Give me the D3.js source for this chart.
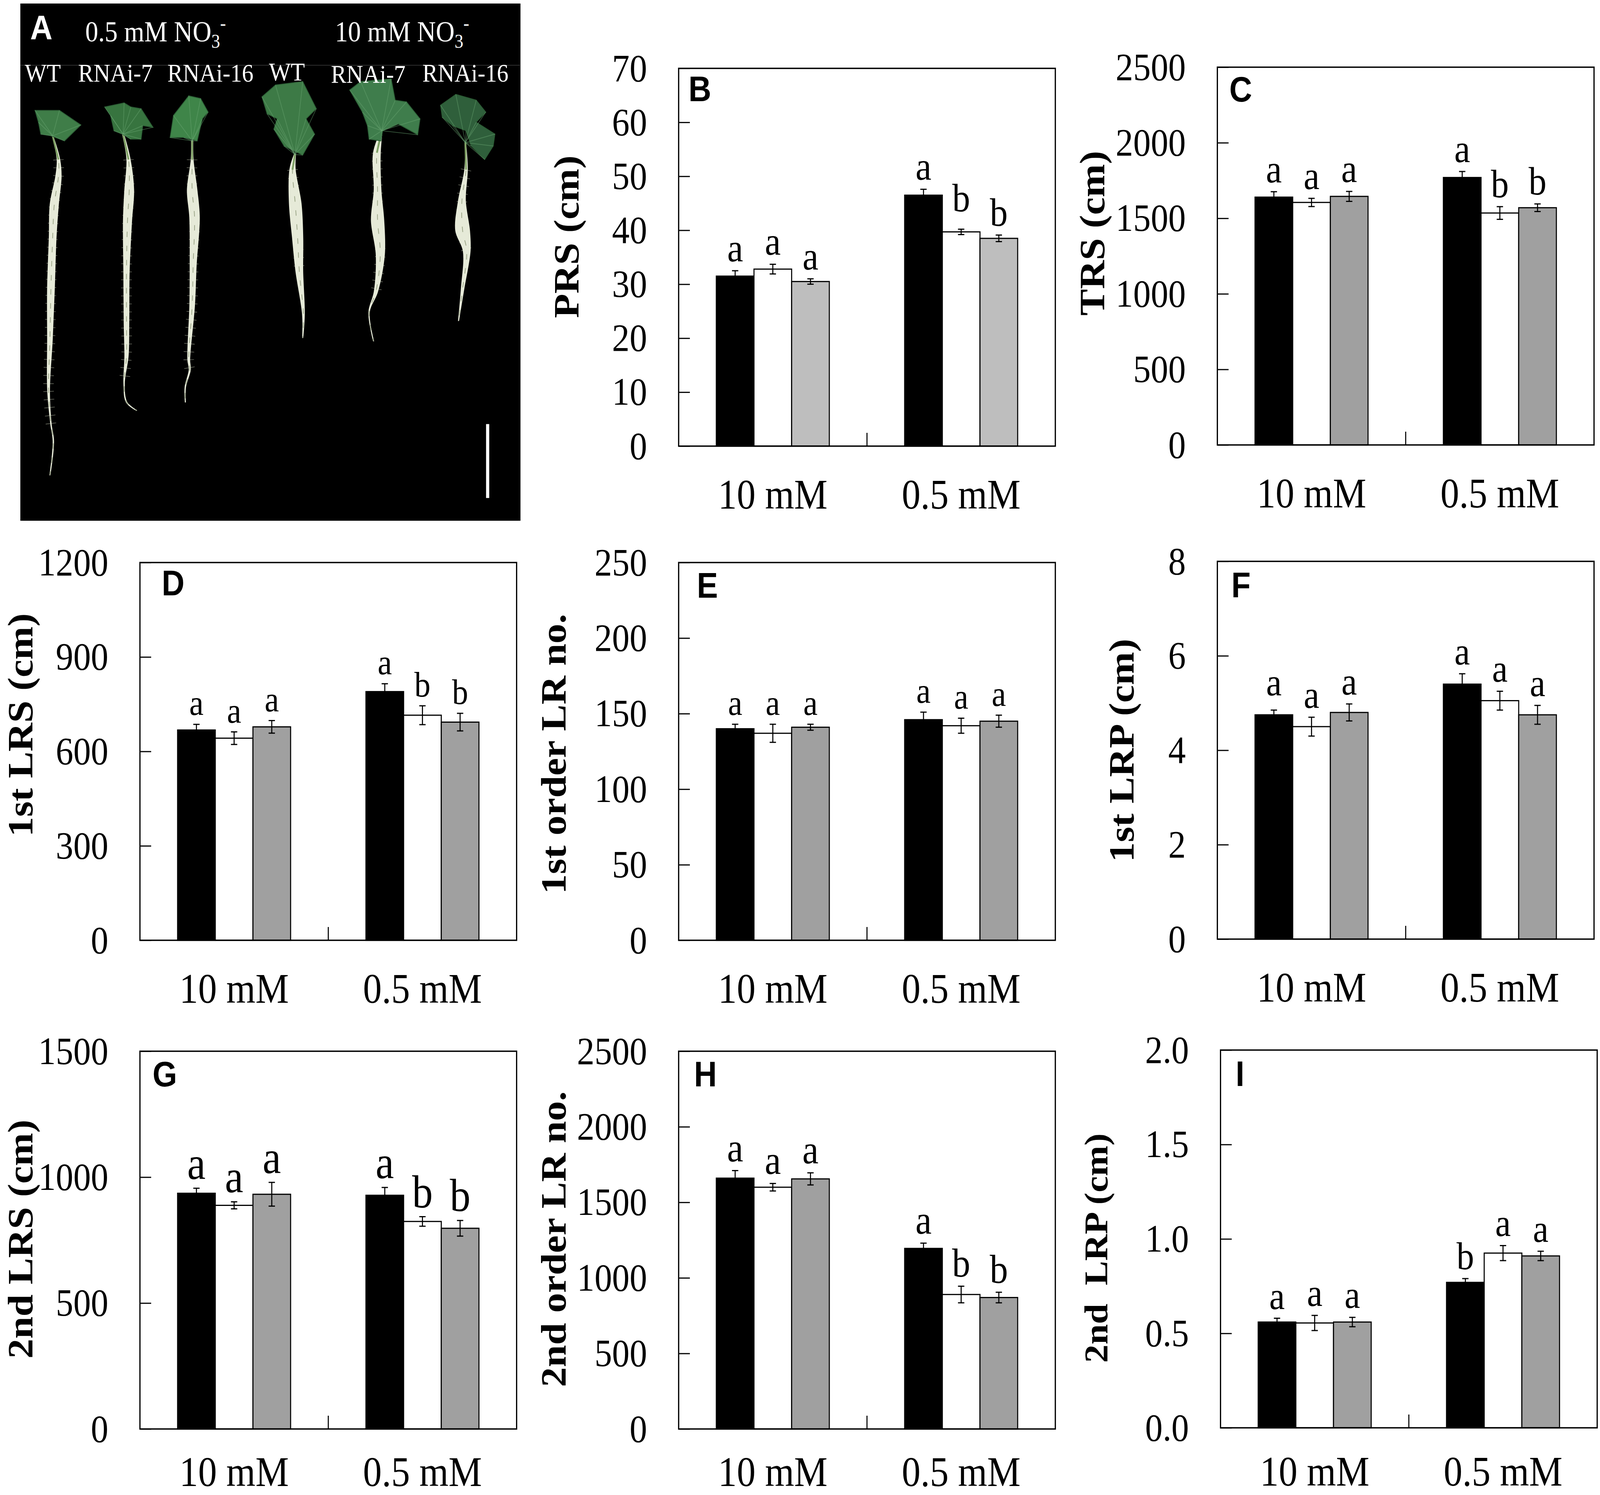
<!DOCTYPE html>
<html>
<head>
<meta charset="utf-8">
<script src="https://cdn.jsdelivr.net/npm/d3@7"></script>
<style>
html, body { margin: 0; padding: 0; background: #fff; overflow: hidden; }
</style>
</head>
<body>
<div id="chart"></div>
<script>
var conditions = ['10 mM', '0.5 mM'];
var genotypes = ['WT', 'RNAi-7', 'RNAi-16'];

// each list: 10 mM WT, RNAi-7, RNAi-16, then 0.5 mM WT, RNAi-7, RNAi-16
var prsMeans = [31.5, 32.8, 30.5, 46.5, 39.7, 38.5];
var prsErrors = [1.0, 0.9, 0.5, 1.1, 0.5, 0.6];
var prsLetters = ['a', 'a', 'a', 'a', 'b', 'b'];
var prsTicks = [0, 10, 20, 30, 40, 50, 60, 70];

var trsMeans = [1640, 1605, 1645, 1770, 1535, 1570];
var trsErrors = [36, 27, 33, 40, 42, 25];
var trsLetters = ['a', 'a', 'a', 'a', 'b', 'b'];
var trsTicks = [0, 500, 1000, 1500, 2000, 2500];

var lrs1Means = [668, 642, 678, 790, 715, 693];
var lrs1Errors = [18, 20, 20, 25, 30, 28];
var lrs1Letters = ['a', 'a', 'a', 'a', 'b', 'b'];
var lrs1Ticks = [0, 300, 600, 900, 1200];

var lr1Means = [140, 137, 141, 146, 142, 145];
var lr1Errors = [3, 6, 2, 5, 5, 4];
var lr1Letters = ['a', 'a', 'a', 'a', 'a', 'a'];
var lr1Ticks = [0, 50, 100, 150, 200, 250];

var lrp1Means = [4.75, 4.5, 4.8, 5.4, 5.05, 4.75];
var lrp1Errors = [0.1, 0.2, 0.18, 0.22, 0.2, 0.2];
var lrp1Letters = ['a', 'a', 'a', 'a', 'a', 'a'];
var lrp1Ticks = [0, 2, 4, 6, 8];

var lrs2Means = [936, 888, 932, 928, 824, 797];
var lrs2Errors = [20, 14, 47, 31, 19, 31];
var lrs2Letters = ['a', 'a', 'a', 'a', 'b', 'b'];
var lrs2Ticks = [0, 500, 1000, 1500];

var lr2Means = [1660, 1600, 1655, 1195, 890, 870];
var lr2Errors = [50, 25, 40, 35, 55, 35];
var lr2Letters = ['a', 'a', 'a', 'a', 'b', 'b'];
var lr2Ticks = [0, 500, 1000, 1500, 2000, 2500];

var lrp2Means = [0.56, 0.555, 0.56, 0.77, 0.925, 0.91];
var lrp2Errors = [0.02, 0.04, 0.025, 0.02, 0.04, 0.025];
var lrp2Letters = ['a', 'a', 'a', 'b', 'a', 'a'];
var lrp2Ticks = [0, 0.5, 1, 1.5, 2];

var serif = '"Liberation Serif", "Times New Roman", serif';
var sans = '"Liberation Sans", Arial, sans-serif';

// window may come out narrower than asked, so the page always fills what it gets
var svg = d3.select('#chart').append('svg')
    .attr('viewBox', '0 0 4562 3827')
    .attr('preserveAspectRatio', 'none')
    .style('width', '100vw')
    .style('height', '100vh')
    .style('display', 'block');

svg.append('rect')
    .attr('width', 4562)
    .attr('height', 3827)
    .attr('fill', '#fff');

//photo panel, roots and leaves
var photoX = d3.scaleLinear().domain([60, 1530]).range([58, 1484]);
var photoY = d3.scaleLinear().domain([10, 1535]).range([9, 1333]);

var plants = [
    {
        leaf: '#3f7d48',
        outline: [[103,325],[175,325],[238,368],[190,415],[150,400],[120,395],[113,360]],
        root: [[155,400,1],[172,470,4],[172,520,8],[160,600,12],[155,700,10],[150,850,10],[147,1000,7],[143,1150,3],[150,1250,1],[157,1300,1],[147,1400,0.5]]
    },
    {
        leaf: '#37743f',
        outline: [[308,315],[365,303],[385,315],[415,320],[450,375],[420,370],[415,410],[385,410],[360,395],[335,385],[325,340]],
        root: [[362,395,2],[378,470,5],[380,560,13],[375,650,12],[372,800,8],[372,950,7],[372,1050,5],[365,1130,1],[372,1185,1],[402,1210,0.5]]
    },
    {
        leaf: '#3f8549',
        outline: [[555,282],[590,290],[612,330],[595,350],[580,415],[540,405],[500,405],[510,340]],
        root: [[565,415,2],[565,470,3],[565,560,14],[572,640,14],[568,780,9],[565,900,7],[555,1060,3],[558,1090,2],[545,1140,1],[545,1185,0.5]]
    },
    {
        leaf: '#3d7a46',
        outline: [[770,285],[810,250],[890,240],[930,320],[900,350],[925,395],[890,457],[835,430],[805,380],[815,350],[785,335]],
        root: [[867,455,2],[860,500,8],[868,600,17],[875,700,15],[880,800,10],[892,925,3],[890,995,0.5]]
    },
    {
        leaf: '#3f7d4c',
        outline: [[1028,265],[1060,240],[1150,232],[1162,295],[1195,300],[1235,350],[1228,397],[1170,365],[1125,385],[1120,415],[1085,410],[1080,370],[1065,330]],
        root: [[1122,385,2],[1108,450,10],[1110,560,10],[1110,650,18],[1118,750,12],[1105,860,5],[1085,920,1],[1098,1005,0.5]]
    },
    {
        leaf: '#2f5f3b',
        outline: [[1295,310],[1340,278],[1400,295],[1428,330],[1400,360],[1455,395],[1450,430],[1425,470],[1385,430],[1370,385],[1330,370],[1300,345]],
        root: [[1368,420,1],[1370,500,4],[1358,590,10],[1360,680,20],[1372,740,10],[1360,850,4],[1348,945,0.5]]
    }
];

var photoLabels = [
    { text: 'WT', x: 122, y: 187 },
    { text: 'RNAi-7', x: 329, y: 187 },
    { text: 'RNAi-16', x: 600, y: 187 },
    { text: 'WT', x: 818, y: 184 },
    { text: 'RNAi-7', x: 1050, y: 190 },
    { text: 'RNAi-16', x: 1327, y: 187 }
];

var photo = svg.append('g').attr('class', 'photo');

photo.append('rect')
    .attr('x', 58)
    .attr('y', 9)
    .attr('width', 1426)
    .attr('height', 1324)
    .attr('fill', '#000');

photo.append('line')
    .attr('x1', 58)
    .attr('x2', 1484)
    .attr('y1', 167)
    .attr('y2', 167)
    .attr('stroke', '#2e2e2e')
    .attr('stroke-width', 2);

var rootArea = d3.area()
    .x0(function(d) { return photoX(d[0]) - d[2]; })
    .x1(function(d) { return photoX(d[0]) + d[2]; })
    .y(function(d) { return photoY(d[1]); })
    .curve(d3.curveCatmullRom);

var rootLine = d3.line()
    .x(function(d) { return photoX(d[0]); })
    .y(function(d) { return photoY(d[1]); })
    .curve(d3.curveCatmullRom);

var leafLine = d3.line()
    .x(function(d) { return photoX(d[0]); })
    .y(function(d) { return photoY(d[1]); })
    .curve(d3.curveLinearClosed);

plants.forEach(function(p) {
    // fine side roots
    photo.append('path')
        .attr('d', rootLine(p.root.slice(1, -2)))
        .attr('fill', 'none')
        .attr('stroke', '#cfd6bd')
        .attr('stroke-width', 30)
        .attr('stroke-dasharray', '1.5 19')
        .attr('opacity', 0.5);
    photo.append('path')
        .attr('d', rootArea(p.root))
        .attr('fill', '#e6ead8')
        .attr('stroke', '#e6ead8')
        .attr('stroke-width', 2);
    // darker streaks inside the root bundle
    photo.append('path')
        .attr('d', rootLine(p.root))
        .attr('fill', 'none')
        .attr('stroke', '#98a284')
        .attr('stroke-width', 2)
        .attr('stroke-dasharray', '14 22');
    photo.append('path')
        .attr('d', rootLine(p.root.slice(0, 2)))
        .attr('fill', 'none')
        .attr('stroke', '#7d9f63')
        .attr('stroke-width', 5);
    photo.append('path')
        .attr('d', leafLine(p.outline))
        .attr('fill', p.leaf)
        .attr('stroke', '#2a5a33')
        .attr('stroke-width', 2);
    // leaf veins run from the stem to the leaf edge
    photo.selectAll(null)
        .data(p.outline)
        .enter().append('line')
        .attr('x1', photoX(p.root[0][0]))
        .attr('y1', photoY(p.root[0][1]))
        .attr('x2', function(d) { return photoX(d[0]); })
        .attr('y2', function(d) { return photoY(d[1]); })
        .attr('stroke', '#6ca874')
        .attr('stroke-width', 2)
        .attr('opacity', 0.45);
});

photo.append('rect')
    .attr('x', photoX(1433) - 4)
    .attr('y', photoY(1250))
    .attr('width', 9)
    .attr('height', photoY(1468) - photoY(1250))
    .attr('fill', '#fff');

photo.append('text')
    .attr('x', 86)
    .attr('y', 100)
    .attr('fill', '#fff')
    .style('font', 'bold 88px ' + sans)
    .text('A');

function addNitrate(x, label) {
    var t = photo.append('text')
        .attr('x', x)
        .attr('y', 106)
        .attr('fill', '#fff')
        .style('font', '74px ' + serif)
        .text(label + ' NO');
    t.append('tspan')
        .attr('dy', 16)
        .style('font-size', '50px')
        .text('3');
    t.append('tspan')
        .attr('dy', -46)
        .style('font-size', '50px')
        .text('-');
}
addNitrate(243, '0.5 mM');
addNitrate(955, '10 mM');

photo.selectAll('.strain')
    .data(photoLabels)
    .enter().append('text')
    .attr('class', 'strain')
    .attr('x', function(d) { return d.x; })
    .attr('y', function(d) { return d.y + 22; })
    .attr('text-anchor', 'middle')
    .attr('fill', '#fff')
    .style('font', '66px ' + serif)
    .text(function(d) { return d.text; });

//bar panels
var panels = [
    { id: 'B', title: 'PRS (cm)', means: prsMeans, errors: prsErrors, letters: prsLetters, ticks: prsTicks, fmt: d3.format('d'), gray: '#bebebe',
      left: 1935, top: 175, titleX: 1617, titleY: 606, titleSize: 102, letterSize: 102, idX: 28, idY: 84, xPad: 84, lift: [0, 0, 0, 0, 22, 0] },
    { id: 'C', title: 'TRS (cm)', means: trsMeans, errors: trsErrors, letters: trsLetters, ticks: trsTicks, fmt: d3.format('d'), gray: '#a0a0a0',
      left: 3471, top: 172, titleX: 3116, titleY: 597, titleSize: 102, letterSize: 102, idX: 34, idY: 88, xPad: 84, lift: [0, 0, 0, 0, 0, 0] },
    { id: 'D', title: '1st LRS (cm)', means: lrs1Means, errors: lrs1Errors, letters: lrs1Letters, ticks: lrs1Ticks, fmt: d3.format('d'), gray: '#a0a0a0',
      left: 399, top: 1440, titleX: 60, titleY: 1856, titleSize: 102, letterSize: 92, idX: 62, idY: 84, xPad: 84, lift: [0, 0, 0, 0, 0, 0] },
    { id: 'E', title: '1st order LR no.', means: lr1Means, errors: lr1Errors, letters: lr1Letters, ticks: lr1Ticks, fmt: d3.format('d'), gray: '#a0a0a0',
      left: 1935, top: 1440, titleX: 1580, titleY: 1930, titleSize: 102, letterSize: 92, idX: 52, idY: 90, xPad: 84, lift: [0, 0, 0, 0, 0, 0] },
    { id: 'F', title: '1st LRP (cm)', means: lrp1Means, errors: lrp1Errors, letters: lrp1Letters, ticks: lrp1Ticks, fmt: d3.format('d'), gray: '#a0a0a0',
      left: 3471, top: 1437, titleX: 3200, titleY: 1921, titleSize: 102, letterSize: 100, idX: 40, idY: 92, xPad: 84, lift: [14, 0, 0, 0, 0, 0] },
    { id: 'G', title: '2nd LRS (cm)', means: lrs2Means, errors: lrs2Errors, letters: lrs2Letters, ticks: lrs2Ticks, fmt: d3.format('d'), gray: '#a0a0a0',
      left: 399, top: 2691, titleX: 60, titleY: 3172, titleSize: 102, letterSize: 118, idX: 36, idY: 90, xPad: 70, lift: [0, 0, 0, 0, 0, 0] },
    { id: 'H', title: '2nd order LR no.', means: lr2Means, errors: lr2Errors, letters: lr2Letters, ticks: lr2Ticks, fmt: d3.format('d'), gray: '#a0a0a0',
      left: 1935, top: 2691, titleX: 1580, titleY: 3172, titleSize: 102, letterSize: 104, idX: 44, idY: 90, xPad: 70, lift: [0, 0, 0, 0, 0, 0] },
    { id: 'I', title: '2nd  LRP (cm)', means: lrp2Means, errors: lrp2Errors, letters: lrp2Letters, ticks: lrp2Ticks, fmt: d3.format('.1f'), gray: '#a0a0a0',
      left: 3480, top: 2688, titleX: 3127, titleY: 3195, titleSize: 94, letterSize: 100, idX: 43, idY: 92, xPad: 72, lift: [0, 0, 0, 0, 0, 0] }
];

var panelW = 1074;
var panelH = 967;
var barInk = 3;

var x0 = d3.scaleBand()
    .domain(conditions)
    .range([0, panelW]);

var x1 = d3.scaleBand()
    .domain(genotypes)
    .range([x0.bandwidth() * 0.2, x0.bandwidth() * 0.8]);

function drawPanel(p) {
    var g = svg.append('g')
        .attr('class', 'panel')
        .attr('transform', 'translate(' + p.left + ',' + p.top + ')');

    var y = d3.scaleLinear()
        .domain([p.ticks[0], p.ticks[p.ticks.length - 1]])
        .range([panelH, 0]);

    var rows = p.means.map(function(v, i) {
        return {
            condition: conditions[Math.floor(i / genotypes.length)],
            genotype: genotypes[i % genotypes.length],
            value: v,
            error: p.errors[i],
            letter: p.letters[i],
            lift: p.lift[i]
        };
    });
    var fills = d3.scaleOrdinal().domain(genotypes).range(['#000', '#fff', p.gray]);

    g.selectAll('.bar')
        .data(rows)
        .enter().append('rect')
        .attr('class', 'bar')
        .attr('x', function(d) { return x0(d.condition) + x1(d.genotype); })
        .attr('y', function(d) { return y(d.value); })
        .attr('width', x1.bandwidth())
        .attr('height', function(d) { return panelH - y(d.value); })
        .attr('fill', function(d) { return fills(d.genotype); })
        .attr('stroke', '#000')
        .attr('stroke-width', barInk);

    var mid = function(d) { return x0(d.condition) + x1(d.genotype) + x1.bandwidth() / 2; };

    g.selectAll('.err')
        .data(rows)
        .enter().append('path')
        .attr('class', 'err')
        .attr('d', function(d) {
            var t = y(d.value + d.error);
            var b = y(d.value - d.error);
            return 'M' + (mid(d) - 9) + ',' + t + 'H' + (mid(d) + 9) +
                'M' + mid(d) + ',' + t + 'V' + b +
                'M' + (mid(d) - 9) + ',' + b + 'H' + (mid(d) + 9);
        })
        .attr('fill', 'none')
        .attr('stroke', '#000')
        .attr('stroke-width', 3);

    g.selectAll('.sig')
        .data(rows)
        .enter().append('text')
        .attr('class', 'sig')
        .attr('x', mid)
        .attr('y', function(d) { return y(d.value + d.error) - 24 - d.lift; })
        .attr('text-anchor', 'middle')
        .style('font', p.letterSize + 'px ' + serif)
        .text(function(d) { return d.letter; });

    var yAxis = d3.axisLeft(y)
        .tickValues(p.ticks)
        .tickFormat(p.fmt)
        .tickSizeInner(-32)
        .tickSizeOuter(0)
        .tickPadding(90);

    var yG = g.append('g').call(yAxis);
    yG.select('.domain').remove();
    yG.selectAll('line').attr('stroke', '#000').attr('stroke-width', 3);
    yG.selectAll('text')
        .attr('fill', '#000')
        .style('font', '100px ' + serif);

    var xAxis = d3.axisBottom(x0)
        .tickSize(0)
        .tickPadding(p.xPad);

    var xG = g.append('g')
        .attr('transform', 'translate(0,' + panelH + ')')
        .call(xAxis);
    xG.select('.domain').remove();
    xG.selectAll('text')
        .attr('fill', '#000')
        .style('font', '107px ' + serif);

    // small divider tick between the two groups
    g.append('line')
        .attr('x1', x0.bandwidth())
        .attr('x2', x0.bandwidth())
        .attr('y1', panelH)
        .attr('y2', panelH - 34)
        .attr('stroke', '#000')
        .attr('stroke-width', 3);

    g.append('rect')
        .attr('width', panelW)
        .attr('height', panelH)
        .attr('fill', 'none')
        .attr('stroke', '#000')
        .attr('stroke-width', 3.5);

    g.append('text')
        .attr('x', p.idX)
        .attr('y', p.idY)
        .style('font', 'bold 90px ' + sans)
        .text(p.id);

    svg.append('text')
        .attr('transform', 'translate(' + p.titleX + ',' + p.titleY + ') rotate(-90)')
        .attr('text-anchor', 'middle')
        .attr('dy', '0.32em')
        .style('white-space', 'pre')
        .style('font', 'bold ' + p.titleSize + 'px ' + serif)
        .text(p.title);
}

panels.forEach(drawPanel);
</script>
</body>
</html>
